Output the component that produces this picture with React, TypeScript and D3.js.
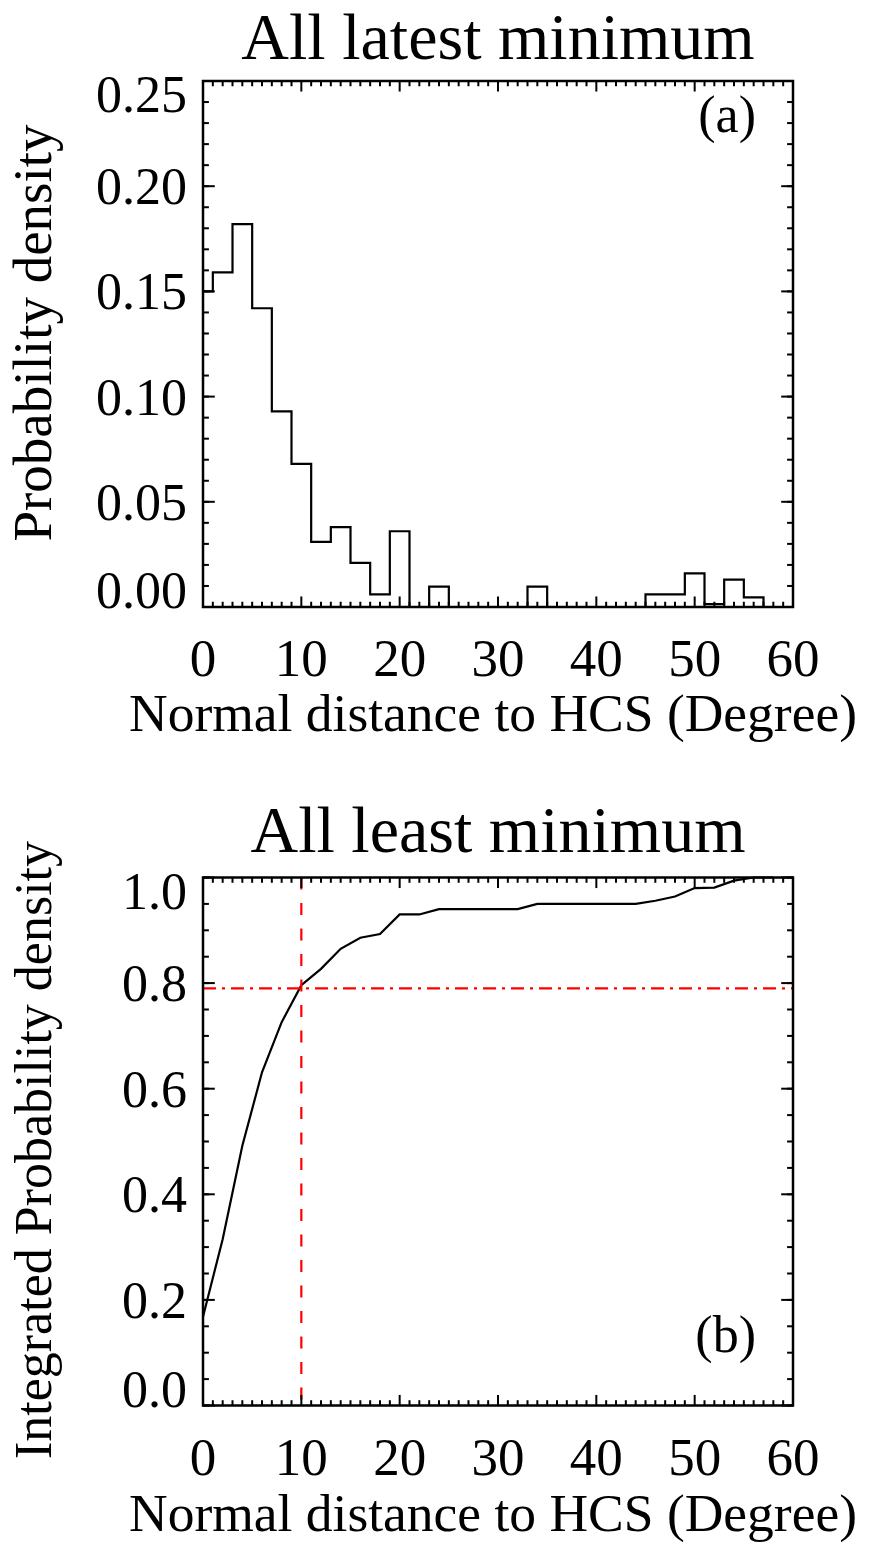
import React from "react";
import * as d3 from "d3";

// ---------- Data ----------
// Histogram (panel a): bin centres (degree) and probability density
const histCenters = [0, 2, 4, 6, 8, 10, 12, 14, 16, 18, 20, 22, 24, 26, 28, 30, 32, 34, 36, 38, 40, 42, 44, 46, 48, 50, 52, 54, 56, 58];
const histValues = [0.150, 0.159, 0.182, 0.142, 0.093, 0.068, 0.031, 0.038, 0.021, 0.006, 0.036, 0.0, 0.0097, 0.0, 0.0, 0.0, 0.0, 0.0097, 0.0, 0.0, 0.0, 0.0, 0.0, 0.006, 0.006, 0.016, 0.0014, 0.013, 0.0046, 0.0];

// Cumulative (panel b)
const cdfX = [0, 2, 4, 6, 8, 10, 12, 14, 16, 18, 20, 22, 24, 26, 28, 30, 32, 34, 36, 38, 40, 42, 44, 46, 48, 50, 52, 54, 56, 58];
const cdfY = [0.168, 0.315, 0.492, 0.631, 0.726, 0.796, 0.827, 0.865, 0.886, 0.893, 0.930, 0.930, 0.940, 0.940, 0.940, 0.940, 0.940, 0.950, 0.950, 0.950, 0.950, 0.950, 0.950, 0.956, 0.964, 0.980, 0.981, 0.994, 1.0, 1.0];

const refX = 10;
const refY = 0.79;

const xTicks = [0, 10, 20, 30, 40, 50, 60];
const yTicksA = [0, 0.05, 0.1, 0.15, 0.2, 0.25];
const yTicksB = [0, 0.2, 0.4, 0.6, 0.8, 1.0];

const titleA = "All latest minimum";
const titleB = "All least minimum";
const xLabel = "Normal distance to HCS (Degree)";
const yLabelA = "Probability density";
const yLabelB = "Integrated Probability density";

const FONT = '"Liberation Serif", "Times New Roman", Times, serif';

type PanelProps = {
  top: number;
  bottom: number;
  yDomain: [number, number];
  yMajor: number[];
  yMinorStep: number;
  yFmt: (v: number) => string;
  title: string;
  titleBaseline: number;
  yLabel: string;
  yLabelCenter: number;
  yLabelSize: number;
  xLabelBaseline: number;
  tag: string;
  tagBaseline: number;
  children: (x: d3.ScaleLinear<number, number>, y: d3.ScaleLinear<number, number>) => React.ReactNode;
};

const LEFT = 203;
const RIGHT = 793;

function Panel(p: PanelProps) {
  const x = d3.scaleLinear().domain([0, 60]).range([LEFT, RIGHT]);
  const y = d3.scaleLinear().domain(p.yDomain).range([p.bottom, p.top]);
  const h = p.bottom - p.top;
  const w = RIGHT - LEFT;
  const xMaj = 0.02 * h;
  const yMaj = 0.02 * w;
  const xMinorTicks = d3.range(0, 60.001, 1).filter((v) => v % 10 !== 0);
  const nMin = Math.round((p.yDomain[1] - p.yDomain[0]) / p.yMinorStep);
  const yMinorTicks = d3.range(0, nMin + 1).map((i) => p.yDomain[0] + i * p.yMinorStep);
  const ticks: React.ReactNode[] = [];
  xTicks.forEach((t, i) => {
    ticks.push(<line key={"xb" + i} x1={x(t)} x2={x(t)} y1={p.bottom} y2={p.bottom - xMaj} />);
    ticks.push(<line key={"xt" + i} x1={x(t)} x2={x(t)} y1={p.top} y2={p.top + xMaj} />);
  });
  xMinorTicks.forEach((t, i) => {
    ticks.push(<line key={"xmb" + i} x1={x(t)} x2={x(t)} y1={p.bottom} y2={p.bottom - xMaj / 2} />);
    ticks.push(<line key={"xmt" + i} x1={x(t)} x2={x(t)} y1={p.top} y2={p.top + xMaj / 2} />);
  });
  p.yMajor.forEach((t, i) => {
    ticks.push(<line key={"yl" + i} x1={LEFT} x2={LEFT + yMaj} y1={y(t)} y2={y(t)} />);
    ticks.push(<line key={"yr" + i} x1={RIGHT} x2={RIGHT - yMaj} y1={y(t)} y2={y(t)} />);
  });
  yMinorTicks.forEach((t, i) => {
    ticks.push(<line key={"yml" + i} x1={LEFT} x2={LEFT + yMaj / 2} y1={y(t)} y2={y(t)} />);
    ticks.push(<line key={"ymr" + i} x1={RIGHT} x2={RIGHT - yMaj / 2} y1={y(t)} y2={y(t)} />);
  });

  return (
    <g fontFamily={FONT} fill="#000">
      <text x={(LEFT + RIGHT) / 2} y={p.titleBaseline} fontSize={66} textAnchor="middle">{p.title}</text>
      {p.children(x, y)}
      <g stroke="#000" strokeWidth={2}>{ticks}</g>
      <rect x={LEFT} y={p.top} width={w} height={h} fill="none" stroke="#000" strokeWidth={2.5} />
      {xTicks.map((t) => (
        <text key={"xl" + t} x={x(t)} y={p.bottom + 69} fontSize={53} textAnchor="middle">{String(t)}</text>
      ))}
      {p.yMajor.map((t) => {
        const b = Math.max(p.top + 31, Math.min(y(t) + 18, p.bottom + 1));
        return (
          <text key={"ylb" + t} x={187} y={b} fontSize={52} textAnchor="end">{p.yFmt(t)}</text>
        );
      })}
      <text x={493} y={p.xLabelBaseline} fontSize={53.5} textAnchor="middle">{xLabel}</text>
      <text transform={`translate(51,${p.yLabelCenter}) rotate(-90)`} fontSize={p.yLabelSize} textAnchor="middle">{p.yLabel}</text>
      <text x={756} y={p.tagBaseline} fontSize={52} textAnchor="end">{p.tag}</text>
    </g>
  );
}

export default function App() {
  const f2 = d3.format(".2f");
  const f1 = d3.format(".1f");
  return (
    <svg width={869} height={1542} style={{ position: "absolute", left: 0, top: 0, background: "#fff" }}>
      <rect width={869} height={1542} fill="#fff" />
      <Panel
        top={81}
        bottom={607}
        yDomain={[0, 0.25]}
        yMajor={yTicksA}
        yMinorStep={0.01}
        yFmt={f2}
        title={titleA}
        titleBaseline={59}
        yLabel={yLabelA}
        yLabelCenter={333}
        yLabelSize={55}
        xLabelBaseline={731}
        tag="(a)"
        tagBaseline={132}
      >
        {(x, y) => {
          const pts: [number, number][] = histCenters.map((c, i) => [Math.max(0, c - 1), histValues[i]]);
          const last = histCenters.length - 1;
          pts.push([Math.min(60, histCenters[last] + 1), histValues[last]]);
          const line = d3.line<[number, number]>().x((d) => x(d[0])).y((d) => y(d[1])).curve(d3.curveStepAfter);
          return <path d={line(pts) || ""} fill="none" stroke="#000" strokeWidth={2.2} />;
        }}
      </Panel>
      <Panel
        top={877.5}
        bottom={1405.5}
        yDomain={[0, 1.0]}
        yMajor={yTicksB}
        yMinorStep={0.05}
        yFmt={f1}
        title={titleB}
        titleBaseline={852}
        yLabel={yLabelB}
        yLabelCenter={1150}
        yLabelSize={52}
        xLabelBaseline={1531}
        tag="(b)"
        tagBaseline={1352}
      >
        {(x, y) => {
          const line = d3.line<number>().x((d, i) => x(cdfX[i])).y((d) => y(d));
          return (
            <g>
              <path d={line(cdfY) || ""} fill="none" stroke="#000" strokeWidth={2.2} />
              <line x1={x(refX)} x2={x(refX)} y1={y(1)} y2={y(0)} stroke="#ff0000" strokeWidth={2.2} strokeDasharray="12,13.5" />
              <line x1={x(0)} x2={x(60)} y1={y(refY)} y2={y(refY)} stroke="#ff0000" strokeWidth={2.2} strokeDasharray="13,6,3,6" />
            </g>
          );
        }}
      </Panel>
    </svg>
  );
}
